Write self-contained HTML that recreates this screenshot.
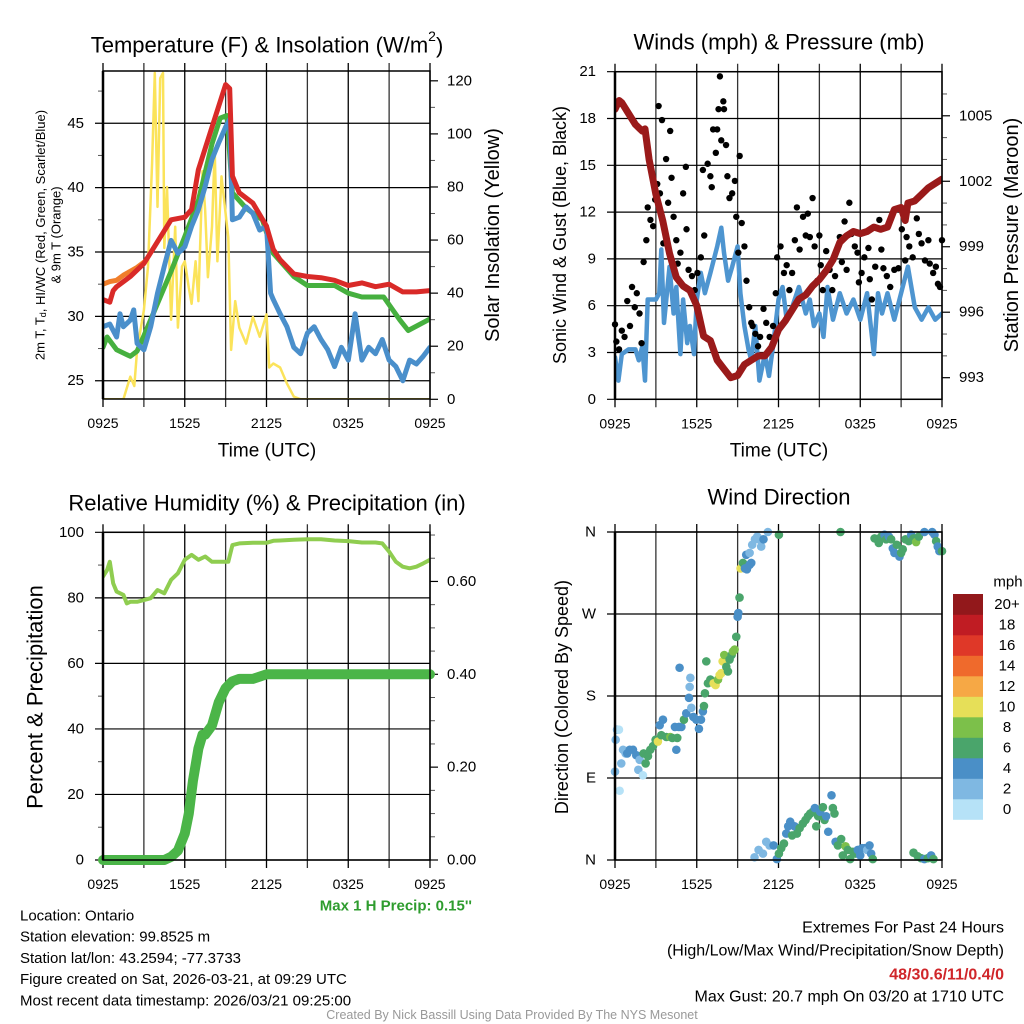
<!DOCTYPE html>
<html><head><meta charset="utf-8"><style>
html,body{margin:0;padding:0;background:#fff;overflow:hidden;}
svg{display:block;font-family:"Liberation Sans",Arial,sans-serif;}
</style></head><body>
<svg id="chart" width="1024" height="1024" viewBox="0 0 1024 1024"></svg>
<script>
// ---------------- DATA ----------------
const tempTimes=[0,0.5,0.75,1,2,3,4,5,6,6.5,7,8,9,9.3,9.5,10,11,12,12.5,13,14,15,16,17,18,19,20,21,22,23,24];
const tempValues=[31.3,31.1,32,32.3,33.1,34.1,35.8,37.5,37.7,38.3,41.4,44.7,48,47.7,40.9,39.6,38.8,37,35.2,34.4,33.3,33.1,33,32.8,32.4,32.6,32.3,32.5,31.9,31.9,32];
const orangeTimes=[0,0.5,1,1.5,2,2.5,3];
const orangeValues=[32.5,32.7,32.8,33.2,33.5,33.8,34.2];
const dewTimes=[0,0.3,1,2,2.5,3,4,5,6,7,8,8.6,9.1,9.5,10.5,11.7,12.5,14,15,17,18,19,20.6,21.8,22.4,24];
const dewValues=[27.6,28.4,27.4,26.9,27.3,28.5,31,33.5,36.2,39,43.4,45.4,45.6,39.6,38.4,37.5,34.9,33.1,32.4,32.4,31.8,31.5,31.5,29.7,28.9,29.8];
const chillTimes=[0,0.5,1,1.25,1.5,2,2.25,2.5,3,3.5,4,4.5,5,5.5,6,6.5,7,7.5,8,8.5,9,9.3,9.5,10,10.5,11,11.5,12,12.3,12.5,13,13.5,14,14.5,15,15.5,16,16.5,17,17.5,18,18.5,19,19.5,20,20.5,21,21.5,22,22.5,23,23.5,24];
const chillValues=[29.2,29.4,28.4,30.2,29.2,29.7,30.5,27.9,27.4,29.2,31.8,33.9,35.9,34.9,35.4,37,38.3,40.1,42.2,43.5,44.7,45.3,37.5,37.7,38.5,38,36.7,37,31.8,31.3,30.2,29.2,27.6,27.1,28.7,29.2,28.2,27.4,26.1,27.6,26.6,30.2,26.6,27.6,27.1,28.2,26.6,26.1,25,26.6,26.3,26.9,27.6];
const solarTimes=[0,1.5,1.7,2,2.3,2.5,3,3.3,3.6,3.8,4,4.2,4.4,4.5,4.7,5,5.3,5.5,5.8,6,6.3,6.5,6.8,7,7.3,7.5,7.7,8,8.2,8.4,8.7,9,9.2,9.4,9.7,10,10.5,11,11.5,12,12.2,12.5,13,13.5,14,14.5,24];
const solarValues=[0,0,3.5,8.5,5,18.6,33.6,50,89,123,72.5,121,123,57,80,30,65,27,50,52,42,36,52,37,86,71,46,65,94,52,84,70,61,18.6,37,27,21,31,23.6,32,12,13.5,12,6,1,0,0];
const presTimes=[0,0.3,0.5,1,1.5,2,2.2,2.5,3,3.5,4,4.5,5,5.5,6,6.5,7,7.5,8,8.5,9,9.5,10,10.5,11,11.5,12,12.5,13,13.5,14,14.5,15,15.5,16,16.5,17,17.5,18,18.5,19,19.5,20,20.5,21,21.3,21.5,22,22.5,23,23.5,24];
const presValues=[1005.3,1005.7,1005.6,1005.1,1004.6,1004.3,1004.4,1003,1001.4,1000.2,998.7,997.6,997.2,997,996.3,994.9,994.7,993.8,993.4,993,993.1,993.6,993.8,994,994,994.4,995.2,995.6,996.1,996.6,996.8,997.2,997.5,997.9,998.4,999.2,999.5,999.7,999.6,999.7,999.9,999.8,999.9,1000.7,1000.8,1000.2,1001,1001.1,1001.4,1001.7,1001.9,1002.1];
const windTimes=[0,0.25,0.5,1,1.5,1.75,2,2.2,2.4,3,3.25,3.4,3.6,4,4.3,4.5,4.8,5,5.3,5.5,5.8,6,6.3,6.6,7,7.5,7.8,8,8.3,8.6,9,9.2,9.5,9.8,10,10.3,10.6,11,11.3,11.6,12,12.3,12.6,13,13.5,14,14.3,14.6,15,15.3,15.6,16,16.5,17,17.5,18,18.5,19,19.3,19.6,20,20.5,21,21.5,22,22.5,23,23.5,24];
const windValues=[2.7,1.2,2.9,3.2,3.2,2.5,3.4,1.2,6.4,6.4,6.8,9.6,4.9,8.5,5.5,7.2,2.9,6.4,3.6,4.7,2.9,6.4,8.1,6.8,8.1,9.8,11,9.4,7.6,8.5,9.8,6.8,4.7,3.2,2.5,4.7,1.2,2.9,1.5,3.4,6.4,7.2,5.1,5.9,7.2,5.5,6.4,4.7,5.5,4,7.2,5.1,6.8,5.5,6.4,5.1,6.8,2.9,6.8,5.5,6.8,5.1,6.8,8.5,5.9,5.1,5.9,5.1,5.5];
const gustTimes=[0,0.1,0.3,0.5,0.7,0.9,1.1,1.25,1.45,1.6,1.8,1.95,2.1,2.3,2.4,2.6,2.8,2.95,3.1,3.2,3.3,3.45,3.55,3.75,3.9,4.05,4.15,4.3,4.5,4.6,4.8,5,5.2,5.25,5.4,5.65,5.85,6.05,6.3,6.45,6.55,6.8,7,7.1,7.2,7.4,7.5,7.6,7.7,7.8,7.95,8,8.15,8.25,8.4,8.6,8.8,8.9,9.05,9.15,9.3,9.5,9.65,9.85,10,10.1,10.3,10.5,10.65,10.9,11.1,11.35,11.6,11.8,11.9,12.15,12.4,12.6,12.8,13,13.2,13.35,13.55,13.8,14,14.15,14.3,14.5,14.65,14.85,15,15.1,15.25,15.5,15.75,15.95,16.15,16.4,16.5,16.65,16.85,17,17.2,17.35,17.6,17.8,17.9,18.1,18.3,18.6,18.7,18.85,19.1,19.4,19.55,19.7,19.95,20.2,20.5,20.8,21.05,21.3,21.4,21.6,21.85,22.15,22.3,22.5,22.75,23,23.1,23.35,23.55,23.7,23.85,24];
const gustValues=[4.8,3.7,3.2,4.4,4,6.3,4.7,7.2,5.9,6.8,5.5,3.6,8.8,10.2,12.3,11.5,11.1,12.8,13.8,18.8,13.2,17.9,10,15.4,12.6,17.2,14.2,11.7,10.2,8.7,9.4,13.2,14.9,10.9,8.3,7.9,7,8.1,9.1,14.7,10.5,15.1,14.3,13.6,17.3,15.8,17.3,18.6,20.7,16.6,19.1,18.6,16.3,14.3,12.9,13.2,14,11.7,9.4,15.6,11.3,9.8,7.6,5.9,4.9,4.7,4.2,3.4,4,5.8,4.9,4,4.7,6.8,9.1,9.8,8.1,8.6,7,8.1,10.2,12.3,9.6,11.7,10.5,11.9,10.4,12.9,9.8,7.6,10.5,8.6,7,9.5,8.3,7,7.9,9.8,10.4,8.8,11.4,8.3,12.6,10.6,9.8,9.4,7.5,8.1,9.1,9.7,7.7,6.4,8.5,11.5,9.6,8.4,7.9,7.2,8.3,8.4,10.9,8.9,10.4,9.8,9.1,11.6,10.6,10,8.9,10.2,8.7,8.1,8.5,7.4,7.2,10.2];
const rhTimes=[0,0.3,0.5,0.75,1,1.5,1.75,2,2.5,3,3.5,4,4.5,5,5.5,6,6.5,7,7.5,8,8.5,9,9.2,9.5,10,11,12,12.5,13,14,15,16,17,18,19,20,20.5,21,21.5,22,22.5,23,23.5,24];
const rhValues=[86.5,88.5,91,84.4,81.9,80.9,78.3,78.8,78.8,79.3,79.9,82.4,81.4,85.5,87.5,91.6,93.1,91.6,92.6,91,91,91,91,96.1,96.6,96.8,96.8,97.4,97.5,97.7,97.9,97.9,97.5,97.3,96.9,96.9,96.6,94.1,91,89.5,89,89.5,90.5,91.6];
const precipTimes=[0,4.5,5,5.5,6,6.3,6.6,7,7.3,7.5,8,8.5,9,9.5,10,11,11.5,12,24];
const precipValues=[0,0,0.007,0.02,0.057,0.1,0.17,0.24,0.27,0.27,0.29,0.34,0.37,0.385,0.39,0.39,0.395,0.4,0.4];
const dirTimes=[0,0.05,0.15,0.29,0.46,0.59,0.78,0.9,1.08,1.32,1.56,1.81,1.71,2.05,0.34,2.1,2.25,2.42,2.59,2.79,2.98,3.15,3.28,3.52,3.4,3.77,4.06,4.21,4.5,4.57,4.4,4.69,4.87,5.06,5.23,5.43,5.48,5.53,5.6,5.75,5.97,6.16,6.31,6.45,6.53,6.6,4.74,6.7,6.82,7.0,7.24,7.38,7.56,7.68,7.8,7.9,8.02,8.17,8.29,8.41,8.56,8.66,8.78,8.9,9.0,9.05,9.14,9.22,9.39,9.54,9.68,9.88,10.0,9.63,9.88,10.07,10.27,10.44,10.56,10.73,10.9,11.22,12.03,16.55,
 19.05,19.22,19.36,19.54,19.78,19.9,20.1,20.27,20.39,20.51,20.68,20.88,21.0,21.12,21.32,21.56,21.74,21.91,22.1,22.3,22.71,23.28,23.45,23.57,23.69,23.81,24.0,
 10.24,10.54,10.86,11.1,11.34,11.64,11.88,12.03,12.2,12.4,12.57,12.71,12.86,13.0,13.18,13.35,13.55,13.79,13.99,14.16,14.33,14.52,14.67,14.77,14.91,15.06,15.26,15.38,15.5,15.65,15.89,15.99,16.11,16.19,16.36,16.6,16.72,16.92,17.09,17.26,17.46,17.65,17.82,18.0,18.14,18.31,18.51,18.68,18.8,18.92,21.91,22.22,22.47,22.71,22.96,23.2,23.37];
const dirValues=[97,132,143,143,106,121,117,117,121,121,115,110,99,93,76,117,106,114,121,125,132,130,148,154,137,135,135,134,121,134,146,146,146,154,161,178,190,200,167,157,154,144,154,163,169,183,211,218,194,198,194,192,198,203,205,218,225,212,207,220,225,229,231,245,267,271,288,320,326,320,319,324,326,335,337,346,352,355,352,344,352,360,357,360,
 353,352,348,355,357,352,355,352,342,337,346,333,337,341,352,350,357,353,349,355,360,360,357,350,344,339,339,
 3,11,7,20,16,16,1,7,13,18,29,37,42,27,37,29,35,40,44,48,51,53,57,37,48,53,58,44,48,31,71,57,51,20,16,23,5,15,11,1,9,7,11,5,13,13,11,16,7,1,8,4,2,1,2,5,1];
const dirSpeeds=[2,3,2,1,2,2,2,4,4,4,4,2,2,1,1,6,6,6,6,6,6,10,4,4,6,7,8,6,4,6,4,4,4,6,4,4,2,2,2,4,4,4,4,4,6,6,4,6,7,6,10,10,8,10,10,10,8,7,6,6,6,8,8,6,4,4,6,10,6,4,4,4,4,4,2,2,2,2,2,2,4,2,6,6,
 6,6,6,6,4,6,4,6,4,4,6,4,6,6,6,6,4,6,8,6,4,4,4,6,4,4,6,
 2,2,2,2,2,4,4,6,6,6,4,4,4,6,4,6,6,6,6,6,6,6,4,6,6,4,6,6,4,4,4,6,6,4,6,6,6,8,6,6,6,6,4,4,4,4,2,4,4,6,6,6,6,4,6,4,6];
const speedBinLabels=["0","2","4","6","8","10","12","14","16","18","20+"];
const speedBinColors=["#b6e2f7","#7fb8e2","#4a8fc7","#4aa56b","#7cc04a","#e6df58","#f6a845","#ef6a2c","#df3828","#c01c23","#92181b"];
const timeTickLabels=["0925","1525","2125","0325","0925"];
const tempTicks=[25,30,35,40,45];
const solarTicks=[0,20,40,60,80,100,120];
const windTicks=[0,3,6,9,12,15,18,21];
const presTicks=[993,996,999,1002,1005];
const rhTicks=[0,20,40,60,80,100];
const precipTicks=["0.00","0.20","0.40","0.60"];
const dirTickLabels=["N","E","S","W","N"];

// ---------------- DRAWING ----------------
const NS="http://www.w3.org/2000/svg";
const svg=document.getElementById('chart');
function el(tag,attrs,parent){const e=document.createElementNS(NS,tag);for(const k in attrs)e.setAttribute(k,attrs[k]);(parent||svg).appendChild(e);return e;}
function txt(s,x,y,size,anchor,extra,parent){const t=el('text',Object.assign({x:x,y:y,'font-size':size,'text-anchor':anchor||'middle','dominant-baseline':'central',fill:'#000'},extra||{}),parent);t.textContent=s;return t;}
function lin(d0,d1,p0,p1){return v=>p0+(v-d0)*(p1-p0)/(d1-d0);}
function ok(v){return typeof v==='number'&&isFinite(v);}

function panel(name,x0,x1,y0,y1){
  const g=el('g',{});
  
  
  return {g,x0,x1,y0,y1,xs:lin(0,24,x0,x1)};
}
function timeGrid(P){
  for(let i=0;i<=8;i++){const x=P.xs(i*3);
    const l=el('line',{x1:x,y1:P.y0-8,x2:x,y2:P.y1+8,stroke:(i%2? '#333':'#000'),'stroke-width':1.3},P.g);
    
    }
  timeTickLabels.forEach((s,i)=>{const t=txt(s,P.xs(i*6),P.y1+24,14,'middle',{},P.g);
    
    });
}
function hGrid(P,ys,vals,labels,side,minorVals){
  vals.forEach((v,i)=>{const y=ys(v);
    const l=el('line',{x1:side==='left'?P.x0-8:P.x0,y1:y,x2:side==='left'?P.x1:P.x1+8,y2:y,stroke:'#000','stroke-width':1.2},P.g);
    
    
    const t=txt(labels[i],side==='left'?P.x0-19:P.x1+17,y,15,side==='left'?'end':'start',{},P.g);
    
    });
  (minorVals||[]).forEach(v=>{const y=ys(v);
    const l=el('line',{x1:side==='left'?P.x0-5:P.x1,y1:y,x2:side==='left'?P.x0:P.x1+5,y2:y,stroke:'#555','stroke-width':1},P.g);
    
    });
}
function frame(P){
  const r=el('rect',{x:P.x0,y:P.y0,width:P.x1-P.x0,height:P.y1-P.y0,fill:'none',stroke:'#000','stroke-width':1.5},P.g);
  
  
  const l=el('line',{x1:P.x0,y1:P.y0,x2:P.x0,y2:P.y1,stroke:'#000','stroke-width':2.5},P.g);
  
  
}
function series(P,times,vals,ys,color,w,name,clip){
  const pts=[];times.forEach((t,i)=>{if(ok(t)&&ok(vals[i]))pts.push(P.xs(t).toFixed(1)+','+ys(vals[i]).toFixed(1));});
  const attrs={points:pts.join(' '),fill:'none',stroke:color,'stroke-width':w,'stroke-linejoin':'round','stroke-linecap':'round'};
  if(clip)attrs['clip-path']='url(#'+clip+')';
  const p=el('polyline',attrs,P.g);
  
  
}
function clipFor(id,P){const d=el('clipPath',{id:id});el('rect',{x:P.x0,y:P.y0,width:P.x1-P.x0,height:P.y1-P.y0},d);}
function rotTitle(s,x,y,size,name,parent){const t=txt(s,x,y,size,'middle',{transform:'rotate(-90 '+x+' '+y+')'},parent);
  
  return t;}

// ----- Panel 1: Temperature -----
const P1=panel('temperature-panel',103,430,71,399);
clipFor('c1',P1);
const yT=lin(23.58,49.06,399,71), yS=lin(0,123.7,399.3,71);
timeGrid(P1);
hGrid(P1,yT,tempTicks,tempTicks.map(String),'left',[27.5,32.5,37.5,42.5,47.5]);
hGrid(P1,yS,[],[],'right',[10,30,50,70,90,110]);
solarTicks.forEach(v=>{const y=yS(v);
  const l=el('line',{x1:P1.x1,y1:y,x2:P1.x1+8,y2:y,stroke:'#000','stroke-width':1.2},P1.g);
  
  
  const t=txt(String(v),P1.x1+17,y,15,'start',{},P1.g);
  
  });
series(P1,solarTimes,solarValues,yS,'#fbe35a',2.5,'solar-insolation-line','c1');
series(P1,orangeTimes,orangeValues,yT,'#f07e2b',5,'9m-temperature-line','c1');
series(P1,dewTimes,dewValues,yT,'#46b03f',5,'dewpoint-line','c1');
series(P1,chillTimes,chillValues,yT,'#4a8fcb',5,'windchill-line','c1');
series(P1,tempTimes,tempValues,yT,'#d92a28',5,'temperature-line','c1');
frame(P1);
{const t=el('text',{x:267,y:45,'font-size':22,'text-anchor':'middle','dominant-baseline':'central'},P1.g);
 t.innerHTML='Temperature (F) &amp; Insolation (W/m<tspan font-size="14" dy="-9">2</tspan><tspan dy="9">)</tspan>';
 
 }
{const t=el('text',{x:40,y:235,'font-size':13,'text-anchor':'middle','dominant-baseline':'central',transform:'rotate(-90 40 235)'},P1.g);
 t.innerHTML='2m T, T<tspan font-size="9" dy="3">d</tspan><tspan dy="-3">, HI/WC (Red, Green, Scarlet/Blue)</tspan>';
 
 }
rotTitle('& 9m T (Orange)',56,235,13,'temperature-y-axis-title-2',P1.g);
rotTitle('Solar Insolation (Yellow)',493,235,20,'solar-y-axis-title',P1.g);
{const t=txt('Time (UTC)',267,451,19,'middle',{},P1.g);}

// ----- Panel 2: Winds -----
const P2=panel('winds-panel',615,942,71.7,399.3);
clipFor('c2',P2);
const yW=lin(0,21,399.3,71.7), yP=lin(992.01,1007.02,399.3,71.7);
timeGrid(P2);
hGrid(P2,yW,windTicks,windTicks.map(String),'left',[]);
hGrid(P2,yP,[],[],'right',[994,995,997,998,1000,1001,1003,1004,1006]);
presTicks.forEach(v=>{const y=yP(v);
  const l=el('line',{x1:P2.x1,y1:y,x2:P2.x1+8,y2:y,stroke:'#000','stroke-width':1.2},P2.g);
  
  
  const t=txt(String(v),P2.x1+17,y,15,'start',{},P2.g);
  
  });
series(P2,windTimes,windValues,yW,'#4e95d0',4.5,'sonic-wind-line','c2');
gustTimes.forEach((t,i)=>{if(!ok(gustValues[i]))return;
  const c=el('circle',{cx:P2.xs(t),cy:yW(gustValues[i]),r:3.2,fill:'#000'},P2.g);
  
  });
series(P2,presTimes,presValues,yP,'#9a1a1a',7,'pressure-line','c2');
frame(P2);
{const t=txt('Winds (mph) & Pressure (mb)',779,42,22,'middle',{},P2.g);}
rotTitle('Sonic Wind & Gust (Blue, Black)',560,235,18,'wind-y-axis-title',P2.g);
rotTitle('Station Pressure (Maroon)',1012,235,20,'pressure-y-axis-title',P2.g);
{const t=txt('Time (UTC)',779,451,19,'middle',{},P2.g);}

// ----- Panel 3: RH & Precip -----
const P3=panel('humidity-panel',103,430,532.3,860);
clipFor('c3',P3);
const yR=lin(0,100,860,532.3), yQ=lin(0,0.4,860,674.3);
timeGrid(P3);
hGrid(P3,yR,rhTicks,rhTicks.map(String),'left',[10,30,50,70,90]);
hGrid(P3,yQ,[],[],'right',[0.05,0.1,0.15,0.25,0.3,0.35,0.45,0.5,0.55,0.65,0.7]);
precipTicks.forEach(s=>{const y=yQ(parseFloat(s));
  const l=el('line',{x1:P3.x1,y1:y,x2:P3.x1+8,y2:y,stroke:'#000','stroke-width':1.2},P3.g);
  
  
  const t=txt(s,P3.x1+17,y,15,'start',{},P3.g);
  
  });
series(P3,rhTimes,rhValues,yR,'#8fcd50',4,'relative-humidity-line','c3');
series(P3,precipTimes,precipValues,yQ,'#4bb548',10,'precipitation-line');
frame(P3);
{const t=txt('Relative Humidity (%) & Precipitation (in)',267,503,22,'middle',{},P3.g);}
rotTitle('Percent & Precipitation',35,697,22,'humidity-y-axis-title',P3.g);

// ----- Panel 4: Wind direction -----
const P4=panel('wind-direction-panel',615,942,532,860);
const yD=lin(0,360,860,532);
timeGrid(P4);
hGrid(P4,yD,[0,90,180,270,360],dirTickLabels,'left',[]);
dirTimes.forEach((t,i)=>{const d=dirValues[i];if(!ok(d))return;
  const idx=Math.min(10,Math.floor((dirSpeeds[i]||0)/2));
  const c=el('circle',{cx:P4.xs(Math.max(0,t)),cy:yD(Math.min(360,d)),r:4.3,fill:speedBinColors[idx]},P4.g);
  
  });
frame(P4);
{const t=txt('Wind Direction',779,497,22,'middle',{},P4.g);}
rotTitle('Direction (Colored By Speed)',562,697,18,'direction-y-axis-title',P4.g);
const lg=el('g',{});


{const t=txt('mph',1008,582,15,'middle',{},lg);}
speedBinColors.forEach((c,i)=>{const j=10-i;const y=594+j*20.5;
  const r=el('rect',{x:953,y:y,width:30,height:20.8,fill:c},lg);
  
  
  const t=txt(speedBinLabels[i],1007,y+10.5,15,'middle',{},lg);
  
  });

// ----- Footer text -----
const ft=el('g',{});


{const t=txt("Max 1 H Precip: 0.15''",472,906,15,'end',{fill:'#2e9c2e','font-weight':'bold'},ft);}
["Location: Ontario","Station elevation: 99.8525 m","Station lat/lon: 43.2594; -77.3733","Figure created on Sat, 2026-03-21, at 09:29 UTC","Most recent data timestamp: 2026/03/21 09:25:00"].forEach((s,i)=>{
  const t=txt(s,20,916+i*21.2,15,'start',{},ft);
  
  });
{const t=txt('Extremes For Past 24 Hours',1004,928,16,'end',{},ft);}
{const t=txt('(High/Low/Max Wind/Precipitation/Snow Depth)',1004,951,16,'end',{},ft);}
{const t=txt('48/30.6/11/0.4/0',1004,975,16,'end',{fill:'#d0262a','font-weight':'bold'},ft);}
{const t=txt('Max Gust: 20.7 mph On 03/20 at 1710 UTC',1004,997,16,'end',{},ft);}
{const t=txt('Created By Nick Bassill Using Data Provided By The NYS Mesonet',512,1015,12.5,'middle',{fill:'#999'},ft);}
</script>
</body></html>
